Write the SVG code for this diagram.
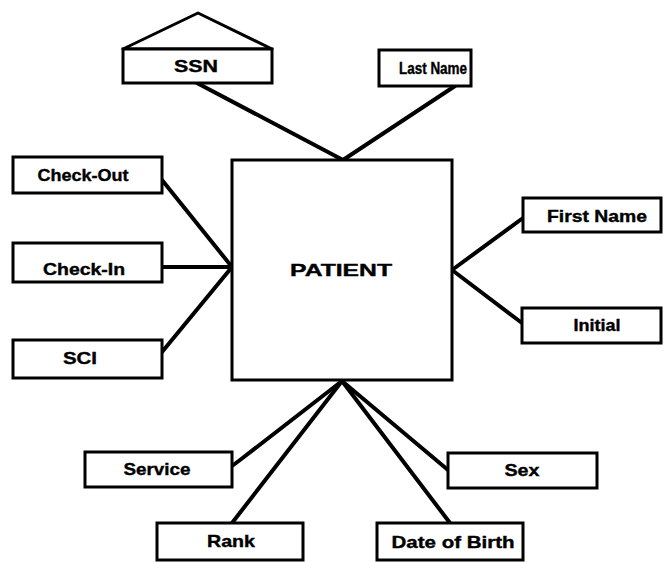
<svg xmlns="http://www.w3.org/2000/svg" width="664" height="562" viewBox="0 0 664 562">
<style>
.box{fill:#fff;stroke:#000;stroke-width:3}
.lbl{font-family:"Liberation Sans",Arial,sans-serif;font-weight:bold;font-size:17px;fill:#000;stroke:#000;stroke-width:0.4;text-anchor:middle}
.con line,.con polyline{stroke:#000;stroke-width:4;fill:none;stroke-linecap:round}
</style>
<rect width="664" height="562" fill="#fff"/>
<g class="con" id="connectors">
<line x1="197" y1="83" x2="343" y2="160"/>
<line x1="455" y1="86" x2="343" y2="160"/>
<line x1="162" y1="180" x2="232" y2="267"/>
<line x1="162" y1="267" x2="232" y2="267"/>
<line x1="162" y1="352" x2="232" y2="267"/>
<line x1="523" y1="218" x2="452" y2="270"/>
<line x1="522" y1="323" x2="452" y2="270"/>
<polyline points="232,466 240,460 342,381"/>
<line x1="232" y1="523" x2="342" y2="381"/>
<line x1="448" y1="470" x2="342" y2="381"/>
<line x1="450" y1="523" x2="342" y2="381"/>
</g>
<g id="patient">
<rect class="box" x="232" y="160" width="220" height="220"/>
<text class="lbl" x="341" y="276" font-size="23" textLength="102" lengthAdjust="spacingAndGlyphs">PATIENT</text>
</g>
<g id="ssn">
<polygon points="123,49 198,13 272,49" fill="none" stroke="#000" stroke-width="3" stroke-linejoin="round"/>
<rect class="box" x="123" y="49" width="149" height="34"/>
<text class="lbl" x="196" y="72" textLength="44" lengthAdjust="spacingAndGlyphs">SSN</text>
</g>
<g id="last-name">
<rect class="box" x="379" y="50" width="92" height="36"/>
<text class="lbl" x="433" y="74" font-size="16" textLength="68" lengthAdjust="spacingAndGlyphs">Last Name</text>
</g>
<g id="check-out">
<rect class="box" x="13" y="157" width="149" height="36"/>
<text class="lbl" x="83" y="181" textLength="91" lengthAdjust="spacingAndGlyphs">Check-Out</text>
</g>
<g id="check-in">
<rect class="box" x="13" y="243" width="149" height="39"/>
<text class="lbl" x="84" y="275" textLength="82" lengthAdjust="spacingAndGlyphs">Check-In</text>
</g>
<g id="sci">
<rect class="box" x="13" y="340" width="149" height="38"/>
<text class="lbl" x="80" y="364" textLength="34" lengthAdjust="spacingAndGlyphs">SCI</text>
</g>
<g id="first-name">
<rect class="box" x="523" y="198" width="138" height="34"/>
<text class="lbl" x="597" y="222" textLength="100" lengthAdjust="spacingAndGlyphs">First Name</text>
</g>
<g id="initial">
<rect class="box" x="522" y="308" width="139" height="35"/>
<text class="lbl" x="597" y="331" textLength="47" lengthAdjust="spacingAndGlyphs">Initial</text>
</g>
<g id="service">
<rect class="box" x="85" y="452" width="147" height="35"/>
<text class="lbl" x="157" y="475" textLength="67" lengthAdjust="spacingAndGlyphs">Service</text>
</g>
<g id="rank">
<rect class="box" x="157" y="523" width="146" height="37"/>
<text class="lbl" x="231" y="547" textLength="48" lengthAdjust="spacingAndGlyphs">Rank</text>
</g>
<g id="sex">
<rect class="box" x="448" y="453" width="149" height="35"/>
<text class="lbl" x="522" y="476" textLength="35" lengthAdjust="spacingAndGlyphs">Sex</text>
</g>
<g id="date-of-birth">
<rect class="box" x="377" y="523" width="146" height="37"/>
<text class="lbl" x="453" y="548" textLength="123" lengthAdjust="spacingAndGlyphs">Date of Birth</text>
</g>
</svg>
